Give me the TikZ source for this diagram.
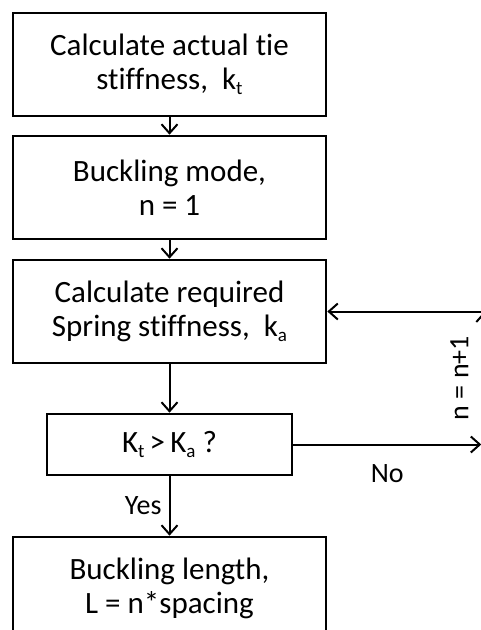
\documentclass[tikz,border=0pt]{standalone}
\usepackage{fontspec}
\setmainfont[Ligatures=NoCommon]{Carlito}
\usetikzlibrary{arrows.meta,positioning,calc}
\newcommand{\lowsub}[1]{\raisebox{-0.35ex}{\fontsize{19}{19}\selectfont #1}}

\begin{document}
\begin{tikzpicture}[x=1pt,y=1pt,
    block/.style={draw,line width=2.6pt,rectangle,align=center,inner sep=0pt,
                  minimum width=313pt,minimum height=103pt,
                  font=\fontsize{31}{33.5}\selectfont},
    test/.style={block,minimum width=245pt,minimum height=61pt},
    link/.style={line width=2pt,-{Straight Barb[length=9pt,width=16pt,line width=2pt]}},
    lbl/.style={font=\fontsize{28}{33}\selectfont,inner sep=0pt}]
   \path[use as bounding box,clip] (0,0) rectangle (481,-630);
   \node[block] (stiff) at (169.5,-64.5) {Calculate actual tie\\stiffness,\ \ k\lowsub{t}};
   \node[block] (mode) [below=17.4pt of stiff] {Buckling mode,\\n = 1};
   \node[block] (req) [below=18.4pt of mode] {Calculate required\\Spring stiffness,\ \ k\lowsub{a}};
   \node[test] (check) [below=48.4pt of req] {K\lowsub{t}\,>\,K\lowsub{a} ?};
   \node[block] (len) [below=59.4pt of check] {Buckling length,\\L = n*spacing};
   \coordinate (noend) at ($(check.east)+(188pt,0)$);
   \coordinate (rtop) at ($(req.east)+(157pt,0)$);
   \coordinate (rbot) at (rtop |- check.east);
    \draw[link] (stiff) -- (mode);
    \draw[link] (mode) -- (req);
    \draw[link] (req) -- (check);
    \draw[link] (check) -- (len) node[lbl,midway,left,outer sep=8pt] {Yes};
    \draw[link] (check) -- (noend) node[lbl,midway,below,outer sep=20pt] {No};
    \draw[link] (rbot) -- (rtop) node[lbl,midway,anchor=south,rotate=90,outer sep=16pt] {n = n+1};
    \draw[link] (rtop) -- (req);
\end{tikzpicture}
\end{document}
